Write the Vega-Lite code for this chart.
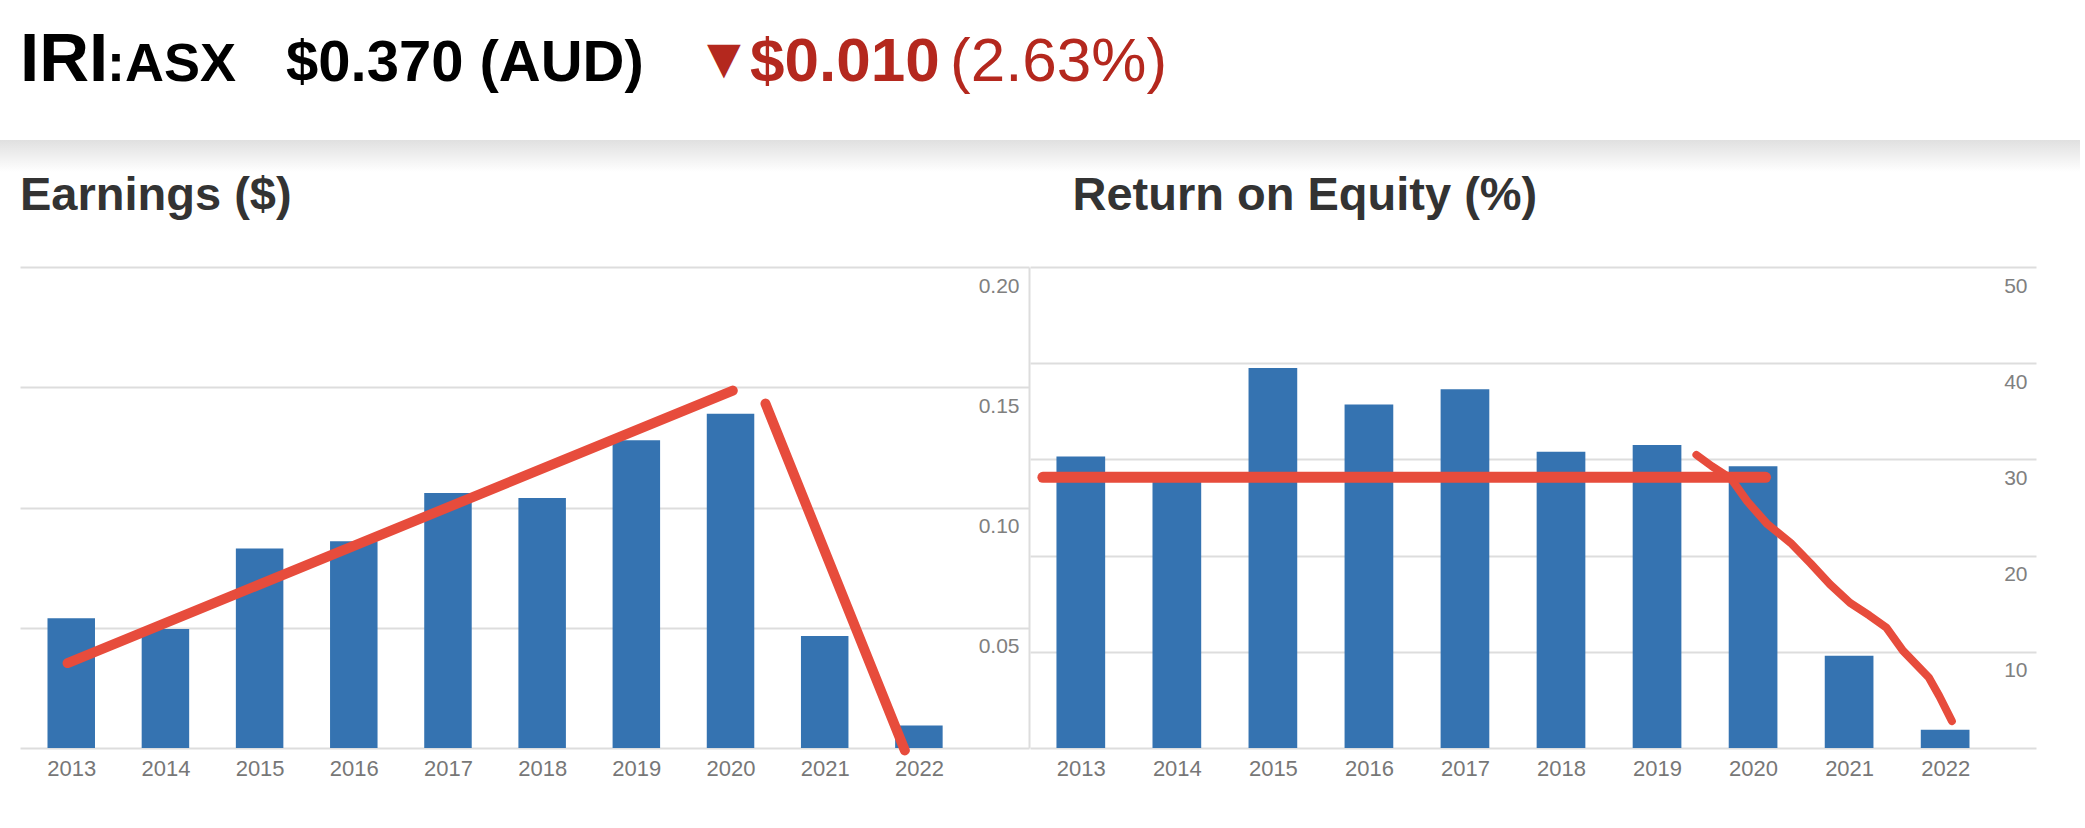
{
  "$schema": "https://vega.github.io/schema/vega-lite/v6.json",
  "background": "#ffffff",
  "padding": 0,
  "autosize": {"type": "pad"},
  "config": {"view": {"stroke": null}, "font": "Liberation Sans"},
  "datasets": {
    "blank": [],
    "earnings": [
      {"year": 2013, "value": 0.054},
      {"year": 2014, "value": 0.0495},
      {"year": 2015, "value": 0.083},
      {"year": 2016, "value": 0.086},
      {"year": 2017, "value": 0.106},
      {"year": 2018, "value": 0.104},
      {"year": 2019, "value": 0.128},
      {"year": 2020, "value": 0.139},
      {"year": 2021, "value": 0.0466},
      {"year": 2022, "value": 0.0094}
    ],
    "earningsTrend": [
      {"seg": "up", "year": 2012.961, "value": 0.0353},
      {"seg": "up", "year": 2020.024, "value": 0.1486},
      {"seg": "down", "year": 2020.371, "value": 0.1432},
      {"seg": "down", "year": 2021.851, "value": -0.001}
    ],
    "roe": [
      {"year": 2013, "value": 30.3},
      {"year": 2014, "value": 28.3},
      {"year": 2015, "value": 39.5},
      {"year": 2016, "value": 35.7},
      {"year": 2017, "value": 37.3},
      {"year": 2018, "value": 30.8},
      {"year": 2019, "value": 31.5},
      {"year": 2020, "value": 29.3},
      {"year": 2021, "value": 9.6},
      {"year": 2022, "value": 1.9}
    ],
    "roeFlat": [
      {"seg": "flat", "year": 2012.605, "value": 28.14},
      {"seg": "flat", "year": 2020.13, "value": 28.14}
    ],
    "roeCurve": [
      {"seg": "curve", "year": 2019.41, "value": 30.47},
      {"seg": "curve", "year": 2019.57, "value": 29.3},
      {"seg": "curve", "year": 2019.77, "value": 28.0},
      {"seg": "curve", "year": 2019.94, "value": 25.63},
      {"seg": "curve", "year": 2020.15, "value": 23.26},
      {"seg": "curve", "year": 2020.39, "value": 21.33},
      {"seg": "curve", "year": 2020.6, "value": 19.18},
      {"seg": "curve", "year": 2020.8, "value": 17.02},
      {"seg": "curve", "year": 2021.01, "value": 15.08},
      {"seg": "curve", "year": 2021.21, "value": 13.78},
      {"seg": "curve", "year": 2021.39, "value": 12.49},
      {"seg": "curve", "year": 2021.56, "value": 10.12},
      {"seg": "curve", "year": 2021.83, "value": 7.33},
      {"seg": "curve", "year": 2021.94, "value": 5.38},
      {"seg": "curve", "year": 2022.07, "value": 2.8}
    ]
  },
  "spacing": 0,
  "vconcat": [
    {
      "bounds": "flush",
      "spacing": 0,
      "hconcat": [
        {"data": {"name": "blank"}, "mark": "point", "width": 107, "height": 140,
         "title": {"text": "IRI", "anchor": "start", "frame": "group", "orient": "bottom", "offset": -59, "baseline": "alphabetic", "fontSize": 69, "fontWeight": "bold", "color": "#000000", "dx": 20}},
        {"data": {"name": "blank"}, "mark": "point", "width": 179, "height": 140,
         "title": {"text": ":ASX", "anchor": "start", "frame": "group", "orient": "bottom", "offset": -59, "baseline": "alphabetic", "fontSize": 54, "fontWeight": "bold", "color": "#000000"}},
        {"data": {"name": "blank"}, "mark": "point", "width": 419, "height": 140,
         "title": {"text": "$0.370 (AUD)", "anchor": "start", "frame": "group", "orient": "bottom", "offset": -59, "baseline": "alphabetic", "fontSize": 58, "fontWeight": "bold", "color": "#000000"}},
        {"data": {"name": "blank"}, "mark": "point", "width": 44.5, "height": 140,
         "title": {"text": "▼", "anchor": "start", "frame": "group", "orient": "bottom", "offset": -59, "baseline": "alphabetic", "fontSize": 44, "font": "DejaVu Sans", "color": "#b4281e", "dx": 2, "dy": -8}},
        {"data": {"name": "blank"}, "mark": "point", "width": 199.5, "height": 140,
         "title": {"text": "$0.010", "anchor": "start", "frame": "group", "orient": "bottom", "offset": -59, "baseline": "alphabetic", "fontSize": 62, "fontWeight": "bold", "color": "#b4281e"}},
        {"data": {"name": "blank"}, "mark": "point", "width": 217, "height": 140,
         "title": {"text": "(2.63%)", "anchor": "start", "frame": "group", "orient": "bottom", "offset": -59, "baseline": "alphabetic", "fontSize": 62, "fontWeight": "normal", "color": "#b4281e"}}
      ]
    },
    {
      "data": {"values": [{"k": "shadow"}]},
      "width": 2080,
      "height": 32,
      "mark": {"type": "rect", "color": {"gradient": "linear", "x1": 0, "y1": 0, "x2": 0, "y2": 1, "stops": [{"offset": 0, "color": "#e0e0e0"}, {"offset": 1, "color": "#ffffff"}]}},
      "encoding": {
        "x": {"field": "k", "type": "nominal", "axis": null, "scale": {"paddingInner": 0, "paddingOuter": 0}},
        "y": {"field": "k", "type": "nominal", "axis": null, "scale": {"paddingInner": 0, "paddingOuter": 0}}
      }
    },
    {
      "bounds": "flush",
      "spacing": 1,
      "hconcat": [
        {"data": {"name": "blank"}, "mark": "point", "width": 19, "height": 481},
        {
          "width": 1009,
          "height": 481,
          "title": {"text": "Earnings ($)", "anchor": "start", "frame": "group", "orient": "top", "offset": 10, "baseline": "alphabetic", "fontSize": 47, "fontWeight": "bold", "color": "#333333", "dx": 0},
          "encoding": {
            "x": {"field": "year", "type": "quantitative",
                  "scale": {"domain": [2012.509, 2023.116], "nice": false, "zero": false},
                  "axis": {"values": [2013, 2014, 2015, 2016, 2017, 2018, 2019, 2020, 2021, 2022], "format": "d", "title": null, "grid": false, "domain": false, "ticks": false, "tickSize": 0, "labelPadding": 10, "labelFontSize": 22, "labelColor": "#777777", "labelFlush": false, "labelOverlap": false}},
            "y": {"field": "value", "type": "quantitative",
                  "scale": {"domain": [0, 0.2], "nice": false},
                  "axis": {"orient": "right", "values": [0, 0.05, 0.1, 0.15, 0.2], "title": null, "grid": true, "gridColor": "#dddddd", "gridWidth": 2, "domain": true, "domainColor": "#dddddd", "domainWidth": 2, "ticks": false, "tickSize": 0, "labelAlign": "right", "labelBaseline": "top", "labelPadding": -10, "labelOffset": 8, "labelFontSize": 21, "labelColor": "#808080", "labelFlush": false, "labelOverlap": false, "labelExpr": "datum.value === 0 ? '' : format(datum.value, '.2f')"}}
          },
          "layer": [
            {"data": {"name": "earnings"}, "mark": {"type": "bar", "orient": "vertical", "size": 47.5, "color": "#3573b1"}},
            {"data": {"name": "earningsTrend"}, "mark": {"type": "line", "color": "#e74c3c", "strokeWidth": 10, "strokeCap": "round", "strokeJoin": "round"}, "encoding": {"detail": {"field": "seg"}}}
          ]
        },
        {
          "width": 1006,
          "height": 481,
          "title": {"text": "Return on Equity (%)", "anchor": "start", "frame": "group", "orient": "top", "offset": 10, "baseline": "alphabetic", "fontSize": 47, "fontWeight": "bold", "color": "#333333", "dx": 42.5},
          "encoding": {
            "x": {"field": "year", "type": "quantitative",
                  "scale": {"domain": [2012.523, 2022.894], "nice": false, "zero": false},
                  "axis": {"values": [2013, 2014, 2015, 2016, 2017, 2018, 2019, 2020, 2021, 2022], "format": "d", "title": null, "grid": false, "domain": false, "ticks": false, "tickSize": 0, "labelPadding": 10, "labelFontSize": 22, "labelColor": "#777777", "labelFlush": false, "labelOverlap": false}},
            "y": {"field": "value", "type": "quantitative",
                  "scale": {"domain": [0, 50], "nice": false},
                  "axis": {"orient": "right", "values": [0, 10, 20, 30, 40, 50], "title": null, "grid": true, "gridColor": "#dddddd", "gridWidth": 2, "domain": false, "ticks": false, "tickSize": 0, "labelAlign": "right", "labelBaseline": "top", "labelPadding": -9, "labelOffset": 8, "labelFontSize": 21, "labelColor": "#808080", "labelFlush": false, "labelOverlap": false, "labelExpr": "datum.value === 0 ? '' : format(datum.value, 'd')"}}
          },
          "layer": [
            {"data": {"name": "roe"}, "mark": {"type": "bar", "orient": "vertical", "size": 48.7, "color": "#3573b1"}},
            {"data": {"name": "roeFlat"}, "mark": {"type": "line", "color": "#e74c3c", "strokeWidth": 11, "strokeCap": "round", "strokeJoin": "round"}, "encoding": {"detail": {"field": "seg"}}},
            {"data": {"name": "roeCurve"}, "mark": {"type": "line", "color": "#e74c3c", "strokeWidth": 8, "strokeCap": "round", "strokeJoin": "round"}, "encoding": {"detail": {"field": "seg"}}}
          ]
        }
      ]
    }
  ]
}
